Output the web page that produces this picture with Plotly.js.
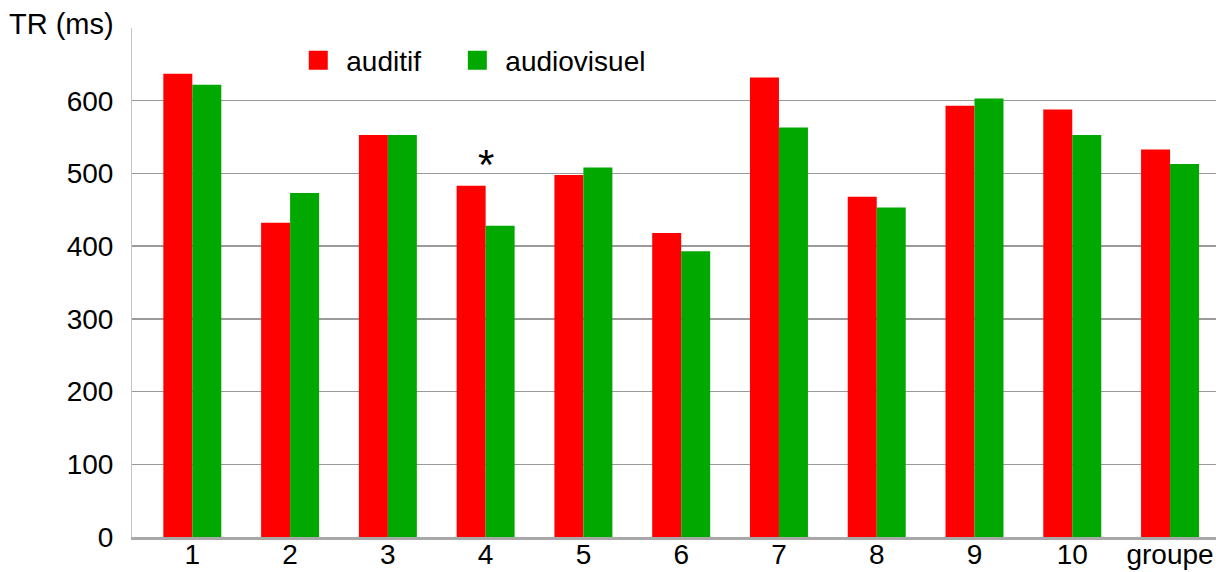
<!DOCTYPE html>
<html>
<head>
<meta charset="utf-8">
<script src="https://cdn.plot.ly/plotly-3.0.1.min.js"></script>
<style>html,body{margin:0;padding:0;background:#fff;}#chart{width:1216px;height:572px;}</style>
</head>
<body>
<div id="chart"></div>
<script>
const categories = ['1', '2', '3', '4', '5', '6', '7', '8', '9', '10', 'groupe'];
const auditif = [637, 432, 553, 483, 498, 418, 632, 468, 593, 588, 533];
const audiovisuel = [622, 473, 553, 428, 508, 393, 563, 453, 603, 553, 513];
const yTickValues = [0, 100, 200, 300, 400, 500, 600, 700];
const yTickLabels = ['0', '100', '200', '300', '400', '500', '600', ''];
const seriesNames = ['auditif', 'audiovisuel'];
const seriesColors = ['#ff0000', '#00a800'];
const yTitle = 'TR (ms)';
const markCategory = '4';
const markValue = 512;

const FONT = 'Liberation Sans, Arial, sans-serif';

const traces = [];
const seriesValues = [auditif, audiovisuel];
seriesNames.forEach(function (name, i) {
  traces.push({type: 'bar', name: name, x: categories, y: seriesValues[i],
    marker: {color: seriesColors[i], line: {width: 0}},
    legendgroup: name, showlegend: false});
});
// legend proxies (no data points) to get larger square legend keys
seriesNames.forEach(function (name, i) {
  traces.push({type: 'scatter', mode: 'markers', name: name + (i === 0 ? '\u00a0\u00a0\u00a0' : ''),
    x: [null], y: [null], legendgroup: name, showlegend: true, hoverinfo: 'skip',
    marker: {symbol: 'square', size: 16, color: seriesColors[i],
             line: {width: 3, color: seriesColors[i]}}});
});

const layout = {
  width: 1216, height: 572,
  margin: {l: 132, r: 0, t: 28, b: 35},
  paper_bgcolor: '#ffffff', plot_bgcolor: '#ffffff',
  font: {family: FONT, color: '#000000', size: 28},
  barmode: 'group', bargap: 0.407, bargroupgap: 0,
  showlegend: true,
  legend: {orientation: 'h', x: 0.146, y: 0.985, xanchor: 'left', yanchor: 'top',
           font: {family: FONT, size: 28, color: '#000'}, bgcolor: 'rgba(0,0,0,0)',
           itemwidth: 46, itemsizing: 'trace'},
  xaxis: {type: 'category', range: [-0.617, 10.47], showgrid: false, zeroline: false,
          showline: true, linecolor: '#a8a8a8', linewidth: 3,
          ticks: '', tickfont: {family: FONT, size: 28, color: '#000'},
          ticklabelstandoff: -10, fixedrange: true},
  yaxis: {range: [0, 700], tickvals: yTickValues, ticktext: yTickLabels,
          showgrid: true, gridcolor: '#9a9a9a', gridwidth: 1.5, zeroline: false,
          showline: true, linecolor: '#c4c4c4', linewidth: 1,
          ticks: '', tickfont: {family: FONT, size: 28, color: '#000'},
          ticklabelstandoff: 12, fixedrange: true},
  annotations: [
    {xref: 'paper', yref: 'paper', x: -0.115, y: 1.0, xanchor: 'left', yanchor: 'bottom',
     text: yTitle, showarrow: false, font: {family: FONT, size: 29, color: '#000'}, yshift: -14},
    {x: categories.indexOf(markCategory), y: markValue, xref: 'x', yref: 'y', text: '*', showarrow: false,
     font: {family: FONT, size: 42, color: '#000'}, yanchor: 'middle'}
  ]
};

Plotly.newPlot('chart', traces, layout, {staticPlot: true, displayModeBar: false});
</script>
</body>
</html>
